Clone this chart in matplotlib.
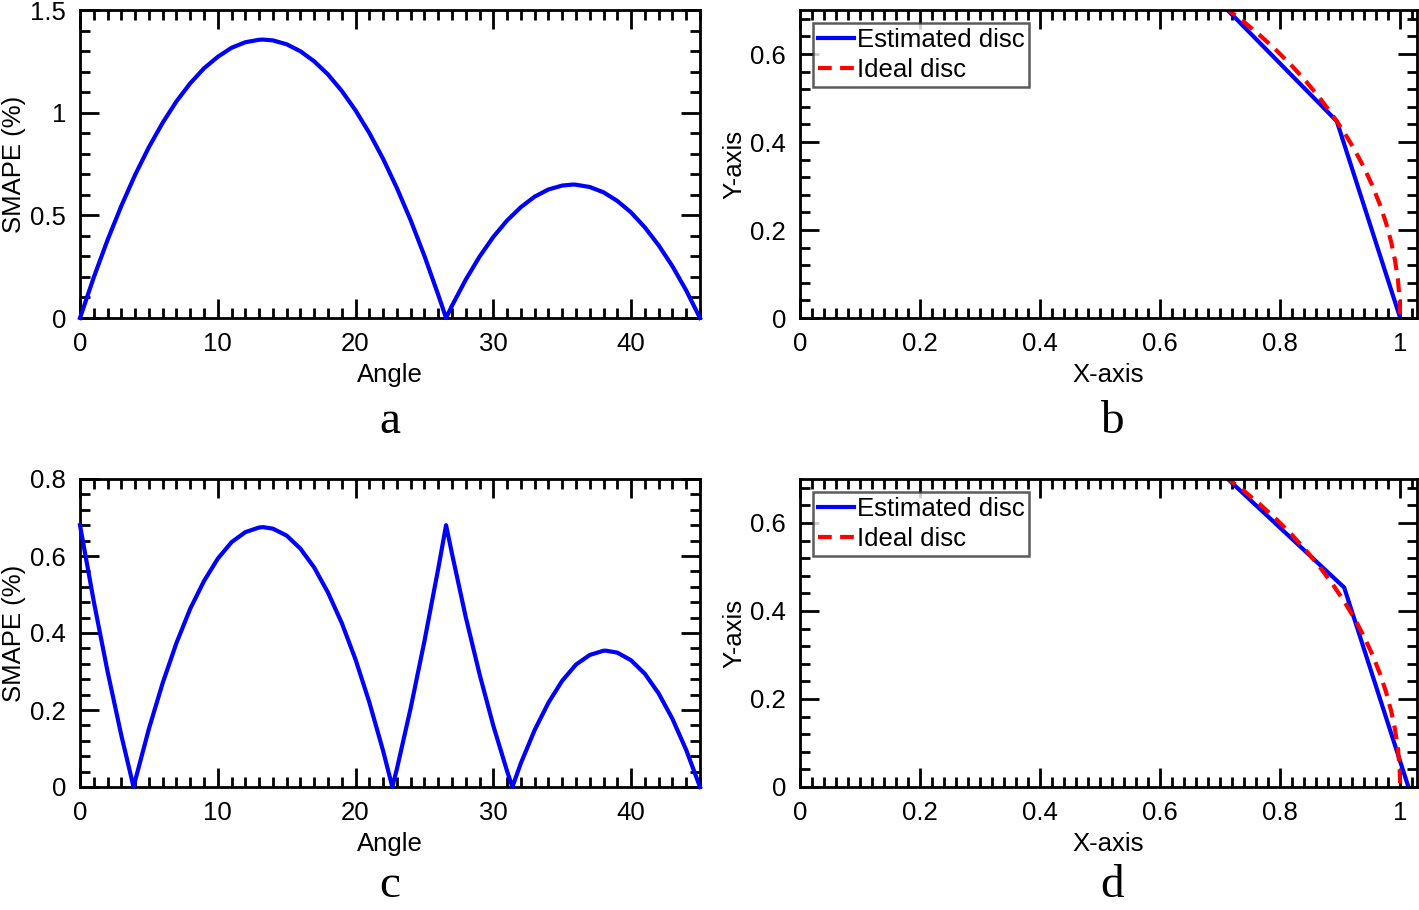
import numpy as np
import matplotlib
matplotlib.use("Agg")
import matplotlib.pyplot as plt
from matplotlib.ticker import MultipleLocator

plt.rcParams['font.family'] = ['Liberation Sans', 'DejaVu Sans']

# panel a : SMAPE vs angle (first estimate)
angle_a = [0, 1, 2, 3, 4, 5, 6, 7, 8, 9, 10, 11, 12, 13, 13.28, 14, 15, 16, 17, 18,
           19, 20, 21, 22, 23, 24, 25, 26, 26.57, 27, 28, 29, 30, 31, 32, 33, 34, 35,
           35.78, 36, 37, 38, 39, 40, 41, 42, 43, 44, 45]
smape_a = [0, 0.198, 0.38, 0.546, 0.697, 0.832, 0.951, 1.055, 1.143, 1.216, 1.272,
           1.316, 1.343, 1.355, 1.356, 1.352, 1.333, 1.299, 1.25, 1.186, 1.106, 1.011,
           0.901, 0.775, 0.633, 0.476, 0.302, 0.113, 0, 0.06, 0.187, 0.299, 0.395,
           0.475, 0.54, 0.591, 0.626, 0.645, 0.65, 0.649, 0.638, 0.612, 0.57, 0.514,
           0.441, 0.354, 0.252, 0.134, 0]

# panel c : SMAPE vs angle (second estimate)
angle_c = [0, 1, 2, 3, 3.89, 4, 5, 6, 7, 8, 9, 10, 11, 12, 13, 13.28, 14, 15, 16, 17,
           18, 19, 20, 21, 22, 22.67, 23, 24, 25, 26, 26.57, 27, 28, 29, 30, 31, 31.38,
           32, 33, 34, 35, 36, 37, 38, 38.19, 39, 40, 41, 42, 43, 44, 45]
smape_c = [0.68, 0.482, 0.3, 0.134, 0, 0.016, 0.151, 0.27, 0.374, 0.463, 0.535, 0.593,
           0.636, 0.662, 0.674, 0.675, 0.671, 0.653, 0.619, 0.57, 0.505, 0.426, 0.331,
           0.22, 0.094, 0, 0.047, 0.205, 0.379, 0.567, 0.68, 0.606, 0.441, 0.293,
           0.159, 0.041, 0, 0.062, 0.148, 0.219, 0.276, 0.318, 0.343, 0.354, 0.354,
           0.349, 0.329, 0.294, 0.243, 0.177, 0.096, 0]

# estimated disc polygons
est_x_b = [0.7071, 0.8944, 1.0]
est_y_b = [0.7071, 0.4472, 0.0]
est_x_d = [0.7071, 0.9067, 1.0137]
est_y_d = [0.7071, 0.4534, 0.0]

# ideal disc (quarter arc 45 -> 0 deg)
ideal_x = [0.7071, 0.7373, 0.7660, 0.7934, 0.8192, 0.8434, 0.8660, 0.8870, 0.9063,
           0.9239, 0.9397, 0.9537, 0.9659, 0.9763, 0.9848, 0.9914, 0.9962, 0.9990, 1.0]
ideal_y = [0.7071, 0.6756, 0.6428, 0.6088, 0.5736, 0.5373, 0.5000, 0.4617, 0.4226,
           0.3827, 0.3420, 0.3007, 0.2588, 0.2164, 0.1736, 0.1305, 0.0872, 0.0436, 0.0]

W, H = 1419, 910
fig = plt.figure(figsize=(W / 100, H / 100), dpi=100)


def box(x0, y0, x1, y1):
    return [x0 / W, 1 - y1 / H, (x1 - x0) / W, (y1 - y0) / H]


fs = 18.5


def style(ax):
    for s in ax.spines.values():
        s.set_linewidth(2.0)
    ax.tick_params(which='both', direction='in', top=True, right=True, width=2.0,
                   labelsize=fs)
    ax.tick_params(which='major', length=14, pad=10)
    ax.tick_params(which='minor', length=7)


ax_a = fig.add_axes(box(80, 10, 700, 318))
ax_b = fig.add_axes(box(800, 10, 1417, 318))
ax_c = fig.add_axes(box(80, 479, 700, 787))
ax_d = fig.add_axes(box(800, 479, 1417, 787))

# SMAPE panels
for ax, ang, sm, ytop, ymaj, ymin in [(ax_a, angle_a, smape_a, 1.5, 0.5, 0.1),
                                     (ax_c, angle_c, smape_c, 0.8, 0.2, 0.04)]:
    ax.plot(ang, sm, color='#0000ff', lw=3, clip_on=False, zorder=3)
    ax.set_xlim(0, 45)
    ax.set_ylim(0, ytop)
    ax.xaxis.set_major_locator(MultipleLocator(10))
    ax.xaxis.set_minor_locator(MultipleLocator(1))
    ax.yaxis.set_major_locator(MultipleLocator(ymaj))
    ax.yaxis.set_minor_locator(MultipleLocator(ymin))
    ax.yaxis.set_major_formatter(lambda v, p: f"{v:g}")
    ax.set_xlabel('Angle', fontsize=fs, labelpad=5)
    ax.set_ylabel('SMAPE (%)', fontsize=fs, labelpad=3)
    style(ax)

# disc panels
for ax, ex, ey in [(ax_b, est_x_b, est_y_b), (ax_d, est_x_d, est_y_d)]:
    ax.plot(ex, ey, color='#0000ff', lw=3, label='Estimated disc')
    ax.plot(ideal_x, ideal_y, color='#ff0000', lw=3, ls=(0, (3.3, 2.0)),
            label='Ideal disc')
    ax.set_xlim(0, 1.028)
    ax.set_ylim(0, 0.7)
    ax.xaxis.set_major_locator(MultipleLocator(0.2))
    ax.xaxis.set_minor_locator(MultipleLocator(0.02))
    ax.yaxis.set_major_locator(MultipleLocator(0.2))
    ax.yaxis.set_minor_locator(MultipleLocator(0.04))
    ax.xaxis.set_major_formatter(lambda v, p: f"{v:g}")
    ax.yaxis.set_major_formatter(lambda v, p: f"{v:g}")
    ax.set_xlabel('X-axis', fontsize=fs, labelpad=5)
    ax.set_ylabel('Y-axis', fontsize=fs, labelpad=3)
    style(ax)
    leg = ax.legend(loc='upper left', fontsize=fs, frameon=True, fancybox=False,
                    handlelength=1.4, handletextpad=0.1, borderpad=0.2,
                    labelspacing=0.22, borderaxespad=0.5)
    leg.get_frame().set_edgecolor('#333333')
    leg.get_frame().set_linewidth(1.8)

# panel letters
for lab, x, y in [('a', 390, 422), ('b', 1112, 422), ('c', 390, 886), ('d', 1112, 886)]:
    fig.text(x / W, 1 - y / H, lab, fontsize=34, family='Liberation Serif',
             ha='center', va='center')

fig.savefig('out.png', dpi=100)
